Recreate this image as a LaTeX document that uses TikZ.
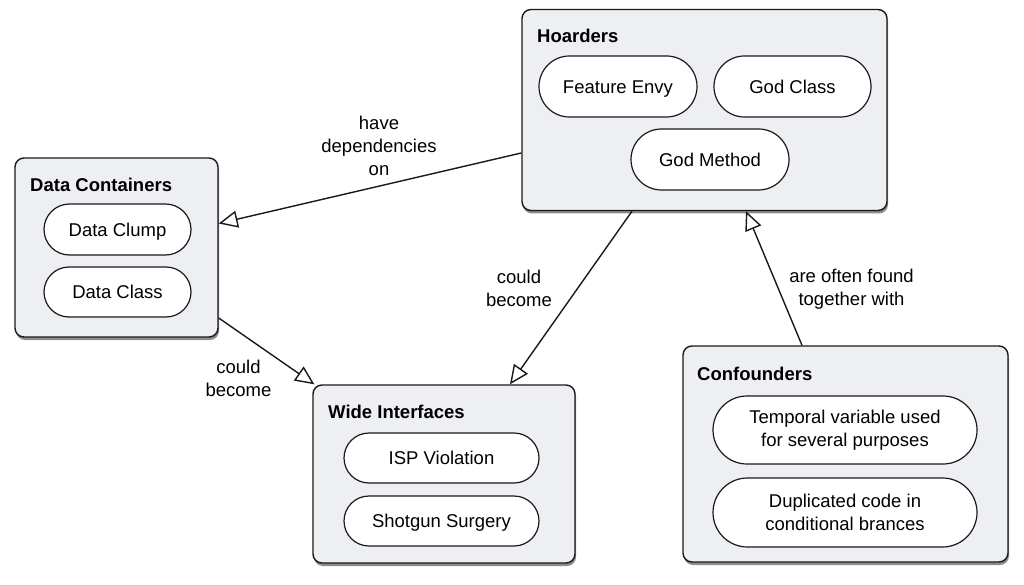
\documentclass[tikz,border=0pt]{standalone}
\usepackage{fontspec}
\setmainfont{Liberation Sans}
\usetikzlibrary{arrows.meta,shapes.misc,shadows}
\definecolor{boxfill}{RGB}{238,239,243}
\definecolor{edge}{RGB}{25,25,25}
\begin{document}
\begin{tikzpicture}[x=1pt,y=-1pt,
  txt/.style={font=\fontsize{18.5}{23}\selectfont, text=black},
  container/.style={draw=edge, line width=1.4pt, fill=boxfill, rounded corners=9pt,
    drop shadow={shadow xshift=1pt, shadow yshift=-3pt, opacity=0.45, fill=black}},
  boxtitle/.style={txt, font=\fontsize{18.5}{23}\selectfont\bfseries, anchor=base west, inner sep=0pt},
  pill/.style={txt, draw=edge, line width=1.2pt, fill=white, rounded rectangle, align=center, inner sep=2pt},
  pill1/.style={pill, text height=13.5pt, text depth=0pt},
  lbl/.style={txt, align=center, inner sep=0pt},
  rel/.style={draw=edge, line width=1.4pt, -{Triangle[open, length=19pt, width=17pt, fill=white]}}
]
\useasboundingbox (0,0) rectangle (1024,585);

% containers
\node[container, minimum width=365pt, minimum height=201pt] (hoard) at (704.5,110) {};
\node[container, minimum width=203pt, minimum height=179pt] (dc) at (116.5,247.5) {};
\node[container, minimum width=262pt, minimum height=178pt] (wi) at (444,474) {};
\node[container, minimum width=325pt, minimum height=216pt] (conf) at (845.5,454) {};

% titles
\node[boxtitle] (th) at (537,43) {Hoarders};
\node[boxtitle] (tdc) at (30,192) {Data Containers};
\node[boxtitle] (twi) at (328,418) {Wide Interfaces};
\node[boxtitle] (tconf) at (697,380) {Confounders};

% pills
\node[pill1, minimum width=162pt, minimum height=61pt] (fe) at (618,86.5) {Feature Envy};
\node[pill1, minimum width=161pt, minimum height=61pt] (gc) at (792.5,86.5) {God Class};
\node[pill1, minimum width=162pt, minimum height=61pt] (gm) at (710,159.5) {God Method};

\node[pill1, minimum width=151pt, minimum height=51pt] (clump) at (117.5,229.5) {Data Clump};
\node[pill1, minimum width=151pt, minimum height=50pt] (dclass) at (117.5,292) {Data Class};

\node[pill1, minimum width=199pt, minimum height=50pt] (isp) at (441.5,458) {ISP Violation};
\node[pill1, minimum width=199pt, minimum height=50pt] (shot) at (441.5,521) {Shotgun Surgery};

\node[pill, minimum width=268pt, minimum height=68pt] (temp) at (845,430) {Temporal variable used\\for several purposes};
\node[pill, minimum width=268pt, minimum height=69pt] (dup) at (845,512.5) {Duplicated code in\\conditional brances};

% connectors
\draw[rel] ([yshift=-43pt]hoard.west) -- ([yshift=24pt]dc.east);
\draw[rel] ([yshift=-70.5pt]dc.east) -- ([xshift=2pt]wi.north west);
\draw[rel] ([xshift=-72.5pt]hoard.south) -- ([xshift=66pt]wi.north);
\draw[rel] ([xshift=-43.5pt]conf.north) -- ([xshift=41.5pt]hoard.south);

% labels
\node[lbl] (l1) at (379,146) {have\\dependencies\\on};
\node[lbl] (l2) at (238.5,378) {could\\become};
\node[lbl] (l3) at (519,288) {could\\become};
\node[lbl] (l4) at (851.5,289) {are often found\\together with};
\end{tikzpicture}
\end{document}
